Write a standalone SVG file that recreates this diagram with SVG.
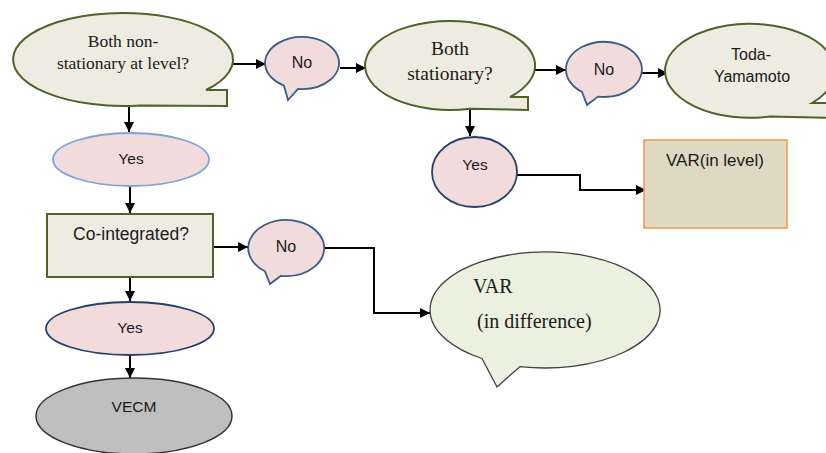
<svg xmlns="http://www.w3.org/2000/svg" width="826" height="453" viewBox="0 0 826 453">
<style>
.q{fill:#eeece1;stroke:#4f6228;stroke-width:2}
.no{fill:#f2dcdb;stroke:#385d8a;stroke-width:1.8}
.serif{font-family:"Liberation Serif","Times New Roman",serif;fill:#1a1a1a}
.sans{font-family:"Liberation Sans",Arial,sans-serif;fill:#1a1a1a}
.c{fill:none;stroke:#000;stroke-width:2;marker-end:url(#ah)}
</style>
<defs>
<marker id="ah" viewBox="0 0 10 10" refX="10" refY="5" markerWidth="10" markerHeight="10" markerUnits="userSpaceOnUse" orient="auto"><path d="M0,0 L10,5 L0,10 z" fill="#000"/></marker>
</defs>
<rect width="826" height="453" fill="#fff"/>

<g id="connectors">
<path class="c" d="M233,64 L266,64"/>
<path class="c" d="M340,68 L366,68"/>
<path class="c" d="M535,70 L566,70"/>
<path class="c" d="M642,73 L668,73"/>
<path class="c" d="M129,107 L129,132"/>
<path class="c" d="M130,186 L130,213"/>
<path class="c" d="M213,247 L248,247"/>
<path class="c" d="M130,277 L130,301"/>
<path class="c" d="M130,355 L130,378"/>
<path class="c" d="M470,110 L470,136"/>
<path class="c" d="M517,175 L580,175 L580,190 L646,190"/>
<path class="c" d="M323,248 L374,248 L374,313 L430,313"/>
</g>

<g id="n1">
<path class="q" d="M206,90 A110 46.5 0 1 0 140,105.4 L227,106 L227,90 Z"/>
<text class="serif" font-size="17.5" text-anchor="middle" x="123" y="47">Both non-</text>
<text class="serif" font-size="17.5" text-anchor="middle" x="123" y="69">stationary at level?</text>
</g>

<g id="no1">
<path class="no" d="M298,88.85 A37 26 0 1 0 284,85.7 L288,100 Z"/>
<text class="sans" font-size="16" text-anchor="middle" x="302" y="68">No</text>
</g>

<g id="n2">
<path class="q" d="M510,97 A85 44.5 0 1 0 470,108.7 L528,110 L528,97 Z"/>
<text class="serif" font-size="19.5" text-anchor="middle" x="450" y="55">Both</text>
<text class="serif" font-size="19.5" text-anchor="middle" x="450" y="80">stationary?</text>
</g>

<g id="no2">
<path class="no" d="M598,96.6 A38 27.5 0 1 0 582,91.9 L587,105 Z"/>
<text class="sans" font-size="16" text-anchor="middle" x="604" y="75">No</text>
</g>

<g id="toda">
<path class="q" d="M812,103 A85 47 0 1 0 770,116.5 L840,118 L840,103 Z"/>
<text class="sans" font-size="16" text-anchor="middle" x="751" y="60">Toda-</text>
<text class="sans" font-size="16" text-anchor="middle" x="752" y="82">Yamamoto</text>
</g>

<g id="yes1">
<ellipse cx="131" cy="159.5" rx="78" ry="26.5" fill="#f2dcdb" stroke="#7fa3db" stroke-width="1.8"/>
<text class="sans" font-size="15.5" text-anchor="middle" x="131" y="164">Yes</text>
</g>

<g id="coint">
<rect x="47" y="214" width="166" height="63" fill="#eeece1" stroke="#4f6228" stroke-width="2"/>
<text class="sans" font-size="17.5" text-anchor="middle" x="131" y="240">Co-integrated?</text>
</g>

<g id="no3">
<path class="no" d="M281,275.8 A38 28 0 1 0 265,271.3 L270,284 Z"/>
<text class="sans" font-size="16" text-anchor="middle" x="286" y="252">No</text>
</g>

<g id="yes2">
<ellipse cx="130" cy="328.5" rx="84" ry="26.5" fill="#f2dcdb" stroke="#24406e" stroke-width="1.8"/>
<text class="sans" font-size="15.5" text-anchor="middle" x="130" y="333">Yes</text>
</g>

<g id="vecm">
<ellipse cx="134" cy="416" rx="98" ry="38" fill="#bfbfbf" stroke="#333" stroke-width="1.5"/>
<text class="sans" font-size="15.5" text-anchor="middle" x="134" y="412">VECM</text>
</g>

<g id="yes3">
<ellipse cx="474.5" cy="172" rx="42.5" ry="35" fill="#f2dcdb" stroke="#24406e" stroke-width="1.8"/>
<text class="sans" font-size="15.5" text-anchor="middle" x="475" y="170">Yes</text>
</g>

<g id="varlevel">
<rect x="644" y="140" width="143" height="88" fill="#ddd9c3" stroke="#f79646" stroke-width="1.5"/>
<text class="sans" font-size="17" text-anchor="middle" x="715" y="166">VAR(in level)</text>
</g>

<g id="vardiff">
<path d="M520,366.6 A115 58 0 1 0 482,358.5 L497,387 Z" fill="#ebf1de" stroke="#404040" stroke-width="1.3"/>
<text class="serif" font-size="20" x="473" y="293">VAR</text>
<text class="serif" font-size="20" x="477" y="328">(in difference)</text>
</g>
</svg>
